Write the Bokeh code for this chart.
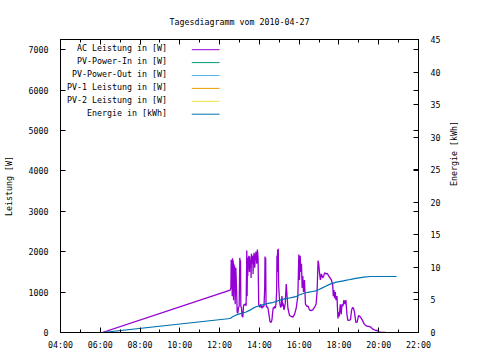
import math
from bokeh.plotting import figure
from bokeh.models import Range1d, LinearAxis, FixedTicker, Label, Arrow
from bokeh.embed import file_html
from bokeh.resources import INLINE

# ---------------- data ----------------
chart_title = "Tagesdiagramm vom 2010-04-27"
y_label = "Leistung [W]"
y2_label = "Energie [kWh]"

series_names = ["AC Leistung in [W]", "PV-Power-In in [W]", "PV-Power-Out in [W]",
                "PV-1 Leistung in [W]", "PV-2 Leistung in [W]", "Energie in [kWh]"]
series_colors = ["#9400d3", "#009e73", "#56b4e9", "#e69f00", "#f0e442", "#0072b2"]

x_major_hours = [4, 6, 8, 10, 12, 14, 16, 18, 20, 22]
x_major_labels = ["04:00", "06:00", "08:00", "10:00", "12:00", "14:00", "16:00", "18:00", "20:00", "22:00"]
x_minor_hours = [5, 7, 9, 11, 13, 15, 17, 19, 21]
power_ticks = [0, 1000, 2000, 3000, 4000, 5000, 6000, 7000]
energy_ticks = [0, 5, 10, 15, 20, 25, 30, 35, 40, 45]

ac_times = ["06:06", "12:32", "12:34", "12:35", "12:36", "12:37", "12:38", "12:39", "12:40", "12:41",
            "12:42", "12:43", "12:44", "12:45", "12:47", "12:49", "12:51", "12:53", "12:55", "12:57",
            "12:59", "13:01", "13:02", "13:03", "13:04", "13:06", "13:08", "13:10", "13:12", "13:14",
            "13:16", "13:18", "13:20", "13:22", "13:23", "13:24", "13:25", "13:26", "13:27", "13:28",
            "13:30", "13:31", "13:32", "13:34", "13:35", "13:36", "13:38", "13:40", "13:41", "13:42",
            "13:44", "13:46", "13:48", "13:50", "13:52", "13:54", "13:56", "13:58", "14:00", "14:02",
            "14:04", "14:06", "14:08", "14:10", "14:12", "14:14", "14:16", "14:17", "14:18", "14:19",
            "14:20", "14:22", "14:24", "14:26", "14:28", "14:30", "14:32", "14:34", "14:36", "14:38",
            "14:40", "14:42", "14:44", "14:46", "14:48", "14:50", "14:52", "14:53", "14:54", "14:55",
            "14:56", "14:57", "14:58", "15:00", "15:02", "15:04", "15:06", "15:08", "15:10", "15:12",
            "15:14", "15:16", "15:18", "15:21", "15:26", "15:31", "15:36", "15:41", "15:46", "15:51",
            "15:56", "15:59", "16:01", "16:03", "16:05", "16:07", "16:09", "16:11", "16:13", "16:16",
            "16:19", "16:23", "16:27", "16:31", "16:36", "16:41", "16:46", "16:51", "16:54", "16:57",
            "16:59", "17:01", "17:04", "17:07", "17:11", "17:14", "17:17", "17:21", "17:25", "17:29",
            "17:33", "17:37", "17:41", "17:43", "17:45", "17:47", "17:49", "17:51", "17:54", "17:57",
            "17:59", "18:01", "18:04", "18:07", "18:09", "18:12", "18:15", "18:18", "18:21", "18:24",
            "18:27", "18:31", "18:35", "18:38", "18:41", "18:44", "18:47", "18:51", "18:55", "18:59",
            "19:03", "19:07", "19:11", "19:16", "19:21", "19:26", "19:31", "19:36", "19:41", "19:46",
            "19:51", "19:56", "20:01", "20:06", "20:11", "20:16", "20:21"]
ac_watts = [0, 1050, 1100, 1800, 1150, 1750, 900, 1840, 1300, 1780,
            800, 1700, 1200, 1650, 700, 1600, 1100, 500, 480, 620,
            650, 1850, 1300, 1790, 650, 600, 400, 380, 650, 700,
            680, 720, 660, 2030, 900, 1750, 1400, 1850, 1700, 1900,
            1500, 1880, 1600, 1800, 1350, 1950, 1700, 1900, 1450, 1820,
            1970, 1600, 1900, 2000, 1700, 2050, 1850, 680, 650, 620,
            700, 640, 600, 650, 630, 660, 1100, 1880, 1400, 1850,
            700, 620, 640, 600, 500, 380, 270, 250, 260, 320,
            500, 620, 600, 650, 600, 700, 1000, 1900, 1500, 2050,
            1700, 2070, 1200, 900, 700, 620, 640, 900, 650, 720,
            560, 620, 720, 1200, 600, 420, 400, 380, 450, 600,
            900, 1930, 1300, 1900, 1500, 1700, 1100, 1400, 1000, 1300,
            700, 650, 650, 560, 540, 560, 620, 700, 1000, 1780,
            1700, 1500, 1300, 1450, 1350, 1400, 1480, 1450, 1460, 1400,
            1350, 1300, 1200, 900, 1050, 850, 1000, 800, 900, 350,
            500, 400, 700, 450, 700, 650, 800, 700, 800, 450,
            300, 300, 320, 550, 620, 600, 500, 250, 255, 420,
            400, 355, 300, 214, 170, 150, 150, 132, 91, 70,
            50, 50, 10, 8, 5, 5, 0]

energy_times = ["06:06", "12:32", "12:36", "12:42", "12:50", "13:00", "13:10", "13:20", "13:30", "13:40",
                "13:50", "14:00", "14:10", "14:20", "14:30", "14:40", "14:50", "15:00", "15:10", "15:20",
                "15:30", "15:40", "15:50", "16:00", "16:10", "16:20", "16:30", "16:40", "16:50", "17:00",
                "17:10", "17:20", "17:30", "17:40", "17:50", "18:00", "18:10", "18:20", "18:30", "18:40",
                "18:50", "19:00", "19:15", "19:35", "20:54"]
energy_kwh = [0.0, 2.15, 2.3, 2.5, 2.7, 2.85, 3.0, 3.15, 3.4, 3.7,
              3.95, 4.1, 4.25, 4.4, 4.5, 4.6, 4.75, 4.95, 5.1, 5.2,
              5.3, 5.4, 5.5, 5.75, 5.95, 6.1, 6.2, 6.3, 6.4, 6.6,
              6.85, 7.1, 7.35, 7.55, 7.7, 7.8, 7.9, 8.0, 8.1, 8.2,
              8.3, 8.4, 8.5, 8.6, 8.6]

# ---------------- helpers ----------------
def hours(s):
    hh, mm = s.split(":")
    return int(hh) + int(mm) / 60.0

FONT = "DejaVu Sans Mono"
FS = "8.3px"

X0, X1 = 4, 22
Y0, Y1 = 0, 7250
W, H = 476, 356
FL, FR, FT, FB = 58, 418, 39, 332   # frame edges in canvas pixels


def px2x(px):
    return X0 + (px - FL) / (FR - FL) * (X1 - X0)


def py2y(py):
    return Y0 + (FB - py) / (FB - FT) * (Y1 - Y0)


p = figure(width=W, height=H, output_backend="svg", toolbar_location=None,
           x_range=Range1d(X0, X1), y_range=Range1d(Y0, Y1),
           min_border_left=FL, min_border_right=W - FR,
           min_border_top=FT, min_border_bottom=H - FB,
           title=chart_title)
p.extra_y_ranges = {"energy": Range1d(energy_ticks[0], energy_ticks[-1])}
p.grid.visible = False
p.outline_line_color = "black"
p.outline_line_alpha = 1.0
p.background_fill_color = "white"
p.border_fill_color = "white"

p.title.align = "center"
p.title.offset = -15
p.title.standoff = 26
p.title.text_font = FONT
p.title.text_font_size = FS
p.title.text_font_style = "normal"
p.title.text_color = "black"


def style_axis(ax):
    ax.axis_line_color = "black"
    ax.major_tick_line_color = "black"
    ax.minor_tick_line_color = "black"
    ax.major_tick_out = 0
    ax.minor_tick_out = 0
    ax.major_label_text_font = FONT
    ax.major_label_text_font_size = FS
    ax.major_label_text_color = "black"
    ax.axis_label_text_font = FONT
    ax.axis_label_text_font_size = FS
    ax.axis_label_text_font_style = "normal"
    ax.axis_label_text_color = "black"


xa = p.xaxis[0]
style_axis(xa)
xa.ticker = FixedTicker(ticks=x_major_hours, minor_ticks=x_minor_hours)
xa.major_label_overrides = {h: l for h, l in zip(x_major_hours, x_major_labels)}
xa.major_tick_in = 5
xa.minor_tick_in = 3
xa.major_label_standoff = 7

# mirrored x tics on the top border (no labels)
top = LinearAxis(ticker=FixedTicker(ticks=x_major_hours, minor_ticks=x_minor_hours))
style_axis(top)
top.major_tick_in = 5
top.minor_tick_in = 3
top.major_label_overrides = {h: "" for h in x_major_hours}
top.major_label_text_font_size = "1px"
top.major_label_standoff = 0
p.add_layout(top, "above")

ya = p.yaxis[0]
style_axis(ya)
ya.ticker = FixedTicker(ticks=power_ticks, minor_ticks=[])
ya.major_tick_in = 5
ya.major_label_standoff = 12
ya.axis_label = y_label
ya.axis_label_standoff = 12

# mirrored y tics on the right border (no labels)
ymirror = LinearAxis(ticker=FixedTicker(ticks=power_ticks, minor_ticks=[]))
style_axis(ymirror)
ymirror.major_tick_in = 5
ymirror.major_label_overrides = {t: "" for t in power_ticks}
ymirror.major_label_standoff = 0
p.add_layout(ymirror, "right")

y2 = LinearAxis(y_range_name="energy", ticker=FixedTicker(ticks=energy_ticks, minor_ticks=[]))
style_axis(y2)
y2.major_tick_in = 5
y2.major_label_standoff = 12
y2.axis_label = y2_label
y2.axis_label_standoff = 11
try:
    y2.axis_label_orientation = math.pi / 2
except Exception:
    pass
p.add_layout(y2, "right")

# ---------------- series ----------------
ac_x = [hours(t) for t in ac_times]
en_x = [hours(t) for t in energy_times]

p.line(ac_x, ac_watts, line_color=series_colors[0], line_width=1.3)
for c in series_colors[1:5]:
    p.line(x=[], y=[], line_color=c, line_width=1)
p.line(en_x, energy_kwh, line_color=series_colors[5], line_width=1.2, y_range_name="energy")

# ---------------- key (text then sample, gnuplot style) ----------------
row0, row_step = 47.7, 12.9
for i, (name, col) in enumerate(zip(series_names, series_colors)):
    cy = row0 + i * row_step
    p.add_layout(Label(x=px2x(165), y=py2y(cy), text=name, text_align="right",
                       text_baseline="middle", text_font=FONT, text_font_size=FS,
                       text_color="black"))
    p.add_layout(Arrow(end=None, x_start=px2x(190), y_start=py2y(cy + 1.5),
                       x_end=px2x(218), y_end=py2y(cy + 1.5),
                       line_color=col, line_width=1))

open("out.html", "w").write(file_html(p, INLINE))
